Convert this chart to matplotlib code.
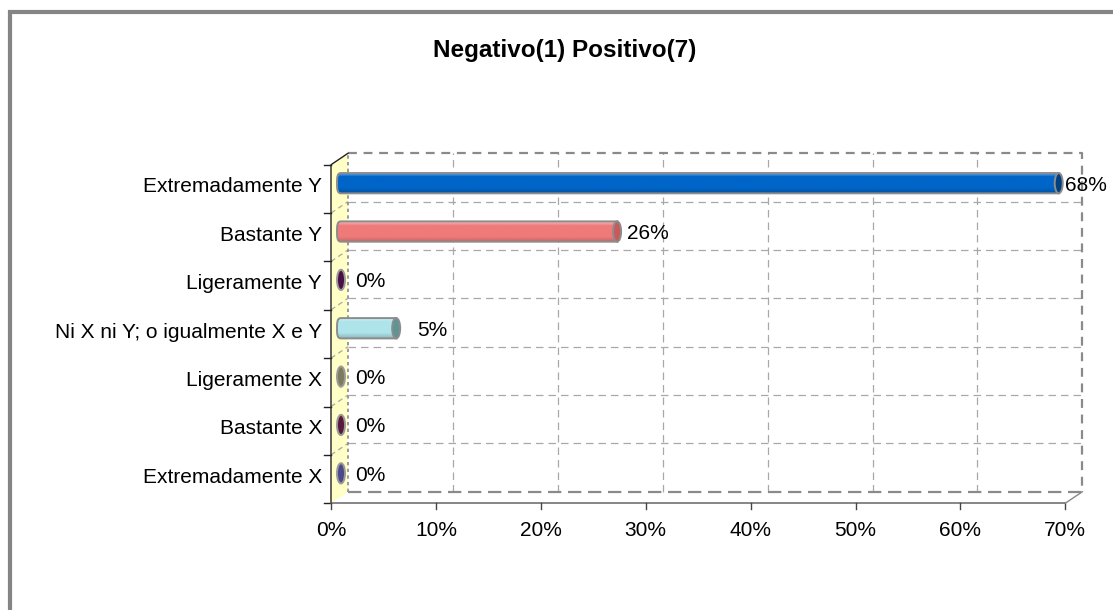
import numpy as np
import matplotlib
matplotlib.use("Agg")
import matplotlib.pyplot as plt
from matplotlib.patches import Rectangle, Ellipse, Polygon, PathPatch
from matplotlib.path import Path
from matplotlib.lines import Line2D
from matplotlib import transforms as mtrans
from matplotlib.colors import to_rgb

plt.rcParams['font.family'] = ['Liberation Sans', 'DejaVu Sans']

# --- data -------------------------------------------------------------
title = "Negativo(1) Positivo(7)"
categories = ["Extremadamente X", "Bastante X", "Ligeramente X",
              "Ni X ni Y; o igualmente X e Y", "Ligeramente Y",
              "Bastante Y", "Extremadamente Y"]
values = [0.0, 0.0, 0.0, 5.26, 0.0, 26.32, 68.42]
x_ticks = [0, 10, 20, 30, 40, 50, 60, 70]
x_tick_labels = ["0%", "10%", "20%", "30%", "40%", "50%", "60%", "70%"]

# --- style ------------------------------------------------------------
body_colors = ["#4b4b8c", "#5a1a3c", "#7c7c5c", "#aee4ea", "#4a1046",
               "#ef7a7a", "#0065c8"]
cap_colors = ["#4b4b8c", "#5a1a3c", "#7c7c5c", "#5f9494", "#4a1046",
              "#c85a5a", "#003f80"]
label_pad_px = [10, 10, 10, 17, 10, 6, 2]
FS = 15

W, H, DPI = 1113, 610, 100
fig = plt.figure(figsize=(W / DPI, H / DPI), dpi=DPI)
fig.patch.set_facecolor("white")

# outer chart frame
fig.patches.append(Rectangle((9.5 / W, -0.1), 1.2, 1 - 12.5 / H + 0.1,
                             transform=fig.transFigure, fill=False,
                             edgecolor="#858585", linewidth=3.0))

# mid-depth plane of the 3-D box (0..70 % spans 339.5..1073.8 px)
X0_PX, X1_PX = 339.5, 1073.8
Y_TOP_PX, Y_BOT_PX = 159.0, 497.5
ppx = (X1_PX - X0_PX) / 70.0
ppy = (Y_BOT_PX - Y_TOP_PX) / 7.0
XLIM = (-3.0, 72.0)
YLIM = (-1.0, 7.0)
left_px = X0_PX + XLIM[0] * ppx
right_px = X0_PX + XLIM[1] * ppx
bot_px = Y_BOT_PX + (-0.5 - YLIM[0]) * ppy
top_px = Y_TOP_PX - (YLIM[1] - 6.5) * ppy
ax = fig.add_axes([left_px / W, (H - bot_px) / H,
                   (right_px - left_px) / W, (bot_px - top_px) / H])
ax.set_xlim(*XLIM)
ax.set_ylim(*YLIM)
ax.axis("off")

DX, DY = 8.5, 5.75   # half depth in pixels
back = ax.transData + mtrans.ScaledTranslation(DX / DPI, DY / DPI, fig.dpi_scale_trans)
front = ax.transData + mtrans.ScaledTranslation(-DX / DPI, -DY / DPI, fig.dpi_scale_trans)
pix = mtrans.IdentityTransform()


def px(tr, x, y):
    return tr.transform((x, y))


def pline(xs, ys, **kw):
    ax.add_line(Line2D(xs, ys, transform=pix, clip_on=False, **kw))


grid_col = "#a8a8a8"
edge_col = "#8a8a8a"

# left side wall
p0 = px(front, 0, -0.5); p1 = px(front, 0, 6.5)
p2 = px(back, 0, 6.5); p3 = px(back, 0, -0.5)
ax.add_patch(Polygon([p0, p1, p2, p3], closed=True, transform=pix,
                     facecolor="#ffffc6", edgecolor="none", zorder=1,
                     clip_on=False))
pline([p0[0], p1[0], p2[0]], [p0[1], p1[1], p2[1]],
      color="#222222", lw=1.0, zorder=3)

# diagonal guides on the wall and ticks at row boundaries
for yb in np.arange(-0.5, 7.0, 1.0):
    a = px(front, 0, yb); b = px(back, 0, yb)
    if -0.5 < yb < 6.5:
        pline([a[0], b[0]], [a[1], b[1]], color=grid_col, lw=0.9,
              ls=(0, (4, 3)), zorder=2)
    pline([a[0] - 7, a[0]], [a[1], a[1]], color="#222222", lw=1.0, zorder=3)

# back wall grid
for xv in x_ticks[1:-1]:
    ax.plot([xv, xv], [-0.5, 6.5], transform=back, color=grid_col, lw=0.9,
            ls=(0, (6, 4)), zorder=1.5, clip_on=False)
for yb in np.arange(0.5, 6.0, 1.0):
    ax.plot([0, 70], [yb, yb], transform=back, color=grid_col, lw=0.9,
            ls=(0, (6, 4)), zorder=1.5, clip_on=False)
ax.plot([0, 70, 70], [6.5, 6.5, -0.5], transform=back, color=edge_col, lw=1.6,
        ls=(0, (4, 3)), zorder=1.5, clip_on=False)
ax.plot([0, 70], [-0.5, -0.5], transform=back, color=edge_col, lw=1.6,
        ls=(0, (6, 3)), zorder=1.5, clip_on=False)
ax.plot([0, 0], [-0.5, 6.5], transform=back, color=edge_col, lw=1.2,
        ls=(0, (2, 2)), zorder=2, clip_on=False)

# front floor edge with ticks
ax.plot([0, 70], [-0.5, -0.5], transform=front, color="#666666", lw=1.1,
        zorder=3, clip_on=False)
for xv in x_ticks:
    a = px(front, xv, -0.5)
    pline([a[0], a[0]], [a[1], a[1] - 6], color="#444444", lw=1.0, zorder=3)
a = px(front, 70, -0.5); b = px(back, 70, -0.5)
pline([a[0], b[0]], [a[1], b[1]], color="#888888", lw=1.0, zorder=3)

# tick labels
for xv, lab in zip(x_ticks, x_tick_labels):
    a = px(front, xv, -0.5)
    fig.text(a[0] / W, (a[1] - 27) / H, lab, ha="center", va="center",
             fontsize=FS, color="black")
for i, lab in enumerate(categories):
    a = px(front, 0, i)
    fig.text((a[0] - 9) / W, (a[1] + 2) / H, lab, ha="right", va="center",
             fontsize=FS, color="black")


def shade(c, f):
    r = np.array(to_rgb(c))
    return np.clip(r + (1 - r) * f, 0, 1) if f > 0 else np.clip(r * (1 + f), 0, 1)


# cylinders
bar_h = 0.42
cap_w = 8.0 / ppx              # ellipse width in data units
x_base = 1.5 / ppx             # bars sit slightly right of the wall
for i, (v, bc, cc) in enumerate(zip(values, body_colors, cap_colors)):
    y0, y1 = i - bar_h / 2, i + bar_h / 2
    if v > 0:
        xs, xe = x_base, v + x_base
        k = 0.55
        verts = [(xs, y1), (xe, y1), (xe, y0), (xs, y0),
                 (xs - cap_w / 2 * k * 1.8, y0), (xs - cap_w / 2, i - bar_h / 2 * k),
                 (xs - cap_w / 2, i),
                 (xs - cap_w / 2, i + bar_h / 2 * k), (xs - cap_w / 2 * k * 1.8, y1),
                 (xs, y1)]
        codes = [Path.MOVETO, Path.LINETO, Path.LINETO, Path.LINETO,
                 Path.CURVE4, Path.CURVE4, Path.CURVE4,
                 Path.CURVE4, Path.CURVE4, Path.CURVE4]
        patch = PathPatch(Path(verts, codes), facecolor="none",
                          edgecolor="#8c8c8c", lw=1.4, zorder=5, clip_on=False)
        ax.add_patch(patch)
        # vertical shading of the body
        t = np.linspace(0, 1, 64)
        prof = np.where(t < 0.18, 0.35 * (1 - t / 0.18) + 0.12,
                        np.where(t < 0.75, 0.0, -0.18 * (t - 0.75) / 0.25))
        img = np.array([shade(bc, f) for f in prof])[:, None, :]
        img = np.repeat(img, 2, axis=1)
        im = ax.imshow(img, extent=(xs - cap_w, xe, y0, y1), origin="upper",
                       aspect="auto", zorder=4, interpolation="bilinear")
        im.set_clip_path(patch)
        ax.add_patch(Ellipse((xe, i), cap_w, bar_h, facecolor=cc,
                             edgecolor="#8c8c8c", lw=1.4, zorder=6, clip_on=False))
    else:
        xe = x_base
        ax.add_patch(Ellipse((xe, i), cap_w, bar_h, facecolor=cc,
                             edgecolor="#9a9a9a", lw=1.4, zorder=6, clip_on=False))
    a = px(ax.transData, xe, i)
    fig.text((a[0] + cap_w / 2 * ppx + label_pad_px[i]) / W, (a[1] - 2) / H,
             f"{v:.0f}%", ha="left", va="center", fontsize=FS, color="black")

ax.set_xlim(*XLIM)
ax.set_ylim(*YLIM)

fig.text(565 / W, 1 - 50 / H, title, ha="center", va="center",
         fontsize=17.5, fontweight="bold")

fig.savefig("out.png", dpi=DPI)
